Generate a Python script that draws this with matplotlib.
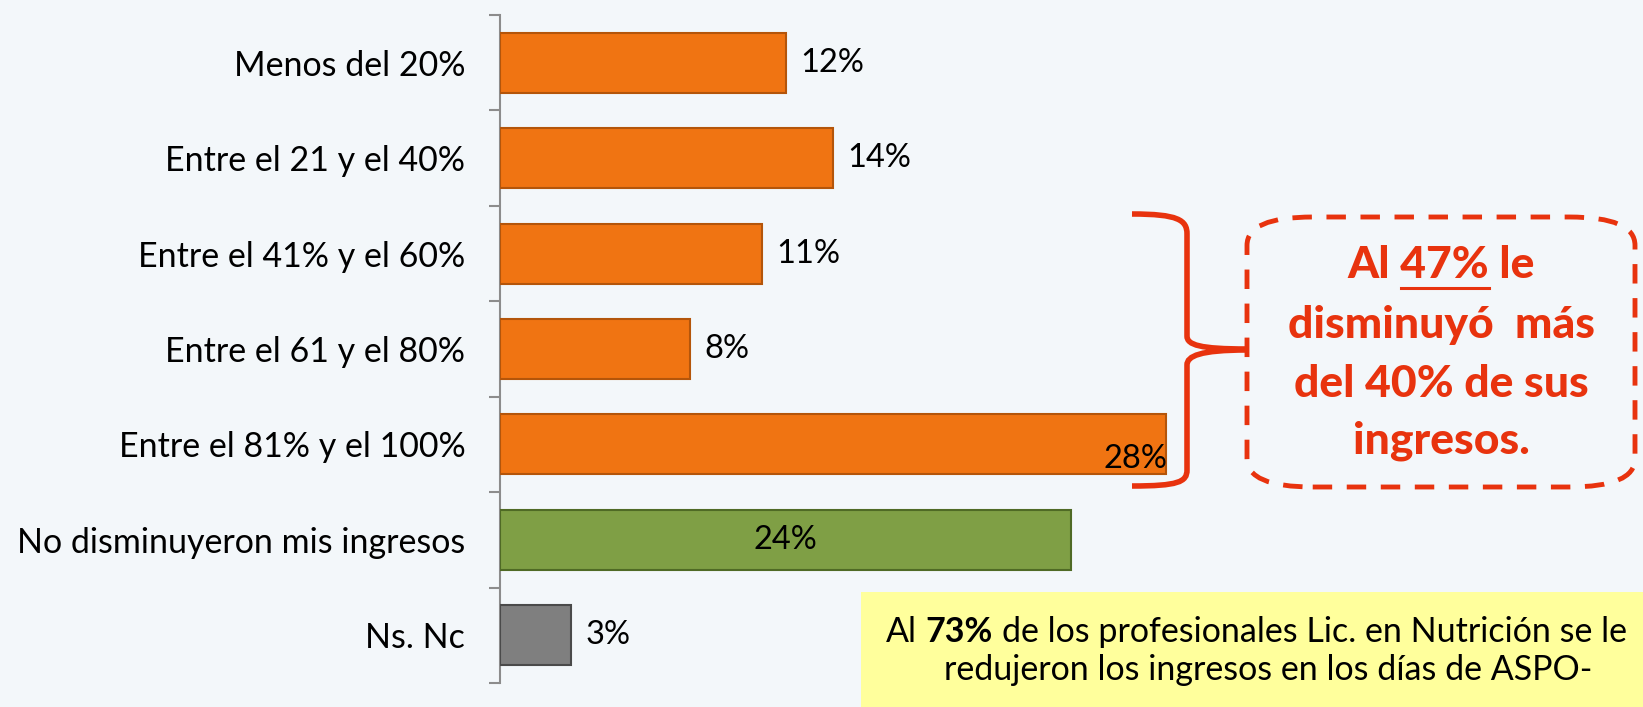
"""Horizontal bar chart: income reduction among nutrition professionals (ASPO)."""

import matplotlib.pyplot as plt
from matplotlib.patches import FancyBboxPatch, Rectangle, PathPatch
from matplotlib.path import Path
from matplotlib.lines import Line2D

categories = [
    "Menos del 20%",
    "Entre el 21 y el 40%",
    "Entre el 41% y el 60%",
    "Entre el 61 y el 80%",
    "Entre el 81% y el 100%",
    "No disminuyeron mis ingresos",
    "Ns. Nc",
]
values = [12, 14, 11, 8, 28, 24, 3]
colors = ["#F07412"] * 5 + ["#7F9F45", "#7F7F7F"]
edges = ["#B4550A"] * 5 + ["#4F6A25", "#4A4A4A"]

W, H = 1643, 707
RED = "#E8330E"
FONT = "Lato"


def px(x, y):
    # pixel coords (y down) -> figure fraction
    return x / W, 1 - y / H


fig = plt.figure(figsize=(W / 100, H / 100), dpi=100)
fig.patch.set_facecolor("#F3F7FA")

ax = fig.add_axes([500 / W, 1 - 683 / H, (W - 500) / W, (683 - 15) / H])
ax.set_facecolor("none")
ypos = list(range(len(categories)))
ax.barh(ypos, values, height=0.63, color=colors, edgecolor=edges, linewidth=1.5, zorder=3)
ax.set_xlim(0, (W - 500) / 23.8)
ax.set_ylim(len(categories) - 0.5, -0.5)

for s in ["top", "right", "bottom"]:
    ax.spines[s].set_visible(False)
ax.spines["left"].set_color("#8C8C8C")
ax.spines["left"].set_linewidth(1.5)
ax.set_xticks([])
ax.set_yticks(ypos)
ax.set_yticklabels(categories, fontsize=24.5, family=FONT)
ax.tick_params(axis="y", which="major", length=0, pad=25)
ax.set_yticks([i - 0.5 for i in range(len(categories) + 1)], minor=True)
ax.tick_params(axis="y", which="minor", length=8, width=1.5, color="#8C8C8C")

# value labels
for i, v in enumerate(values):
    lab = f"{v}%"
    if i == 4:
        ax.text(v + 0.05, i + 0.31, lab, ha="right", va="bottom", fontsize=23.5, family=FONT, zorder=4)
    elif i == 5:
        ax.text(v / 2, i, lab, ha="center", va="center", fontsize=23.5, family=FONT, zorder=4)
    else:
        ax.text(v + 0.6, i, lab, ha="left", va="center", fontsize=23.5, family=FONT, zorder=4)

# curly brace
verts = [
    px(1132, 214), px(1178, 214), px(1187, 220), px(1187, 234),
    px(1187, 336),
    px(1187, 345), px(1200, 349), px(1247, 349),
    px(1247, 350), px(1200, 350), px(1187, 356), px(1187, 365),
    px(1187, 470),
    px(1187, 482), px(1178, 486), px(1132, 486),
]
codes = [Path.MOVETO, Path.CURVE4, Path.CURVE4, Path.CURVE4, Path.LINETO,
         Path.CURVE4, Path.CURVE4, Path.CURVE4,
         Path.MOVETO, Path.CURVE4, Path.CURVE4, Path.CURVE4, Path.LINETO,
         Path.CURVE4, Path.CURVE4, Path.CURVE4]
fig.patches.append(PathPatch(Path(verts, codes), transform=fig.transFigure, facecolor="none",
                             edgecolor=RED, linewidth=4, capstyle="butt"))

# dashed rounded box
bx0, by0 = px(1247, 487)
bx1, by1 = px(1635, 217)
fig.patches.append(FancyBboxPatch((bx0, by0), bx1 - bx0, by1 - by0,
                                  boxstyle="round,pad=0,rounding_size=0.04",
                                  transform=fig.transFigure, facecolor="none",
                                  edgecolor=RED, linewidth=3.5, linestyle=(0, (4, 3))))

cx = 1441
box_fs = 32
box_lines = ["Al 47% le", "disminuyó  más", "del 40% de sus", "ingresos."]
box_y = [265, 325, 384, 441]
for t, y in zip(box_lines, box_y):
    fig.text(*px(cx, y), t, ha="center", va="center", fontsize=box_fs, fontweight="black",
             color=RED, family=FONT)

# underline "47%"
fig.canvas.draw()
r = fig.canvas.get_renderer()


def text_w(s, **kw):
    t = fig.text(0, 0, s, **kw)
    w = t.get_window_extent(r).width
    t.remove()
    return w


bold_kw = dict(fontsize=box_fs, fontweight="black", family=FONT)
w_full = text_w("Al 47% le", **bold_kw)
w_pre = text_w("Al 47%", **bold_kw)
w_num = text_w("47%", **bold_kw)
u0 = cx - w_full / 2 + w_pre - w_num
u1 = cx - w_full / 2 + w_pre
fig.lines.append(Line2D([u0 / W, u1 / W], [1 - 288 / H] * 2, transform=fig.transFigure,
                        color=RED, linewidth=2.2))

# yellow note box
yx0, yy0 = px(861, 707)
yx1, yy1 = px(1643, 592)
fig.patches.append(Rectangle((yx0, yy0), yx1 - yx0, yy1 - yy0, transform=fig.transFigure,
                             facecolor="#FFFF9C", edgecolor="none"))

reg_kw = dict(fontsize=24.5, family=FONT)
x0 = 886
sp = text_w("a a", **reg_kw) - text_w("aa", **reg_kw)
parts = [("Al", "normal"), ("73%", "bold"), ("de los profesionales Lic. en Nutrición se le", "normal")]
x = x0
for s, wt in parts:
    fig.text(*px(x, 632), s, ha="left", va="center", fontweight=wt, **reg_kw)
    x += text_w(s, fontweight=wt, **reg_kw) + sp
fig.text(*px(1268, 670), "redujeron los ingresos en los días de ASPO-", ha="center",
         va="center", **reg_kw)

fig.savefig("out.png", dpi=100, facecolor=fig.get_facecolor())
